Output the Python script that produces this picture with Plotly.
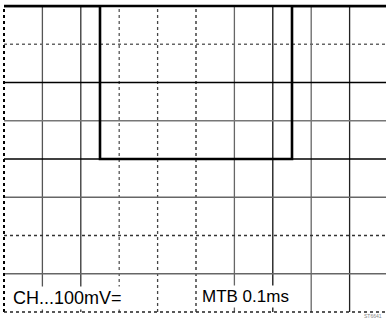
import plotly.graph_objects as go

# Square wave trace (time in divisions, level in divisions)
edge_times = [0, 2.5, 2.5, 7.5, 7.5, 10]
levels = [8, 8, 4, 4, 8, 8]

ch_label = "CH...100mV="
tb_label = "MTB 0.1ms"
ref_code = "ST6641"

x_divs = list(range(1, 10))
y_divs = list(range(1, 8))

# per-line styles mimicking the scanned graticule
v_styles = {1: ("#555", "solid"), 2: ("#333", "solid"), 3: ("#555", "dot"),
            4: ("#444", "dot"), 5: ("#222", "dot"), 6: ("#666", "solid"),
            7: ("#111", "solid"), 8: ("#666", "solid"), 9: ("#222", "solid")}
h_styles = {7: ("#666", "dot"), 6: ("#000", "solid"), 5: ("#777", "solid"),
            4: ("#000", "solid"), 3: ("#666", "solid"), 2: ("#333", "dot"),
            1: ("#666", "solid")}

fig = go.Figure()

shapes = []
for xv in x_divs:
    c, d = v_styles[xv]
    shapes.append(dict(type="line", xref="x", yref="y", x0=xv, x1=xv, y0=0, y1=8,
                       line=dict(color=c, width=1.3, dash=d), layer="below"))
for yv in y_divs:
    c, d = h_styles[yv]
    shapes.append(dict(type="line", xref="x", yref="y", x0=0, x1=10, y0=yv, y1=yv,
                       line=dict(color=c, width=1.3, dash=d), layer="below"))
# frame: top, left, bottom (right edge falls outside the picture)
shapes.append(dict(type="line", xref="paper", yref="paper", x0=0, x1=1, y0=1, y1=1,
                   line=dict(color="black", width=2.5)))
shapes.append(dict(type="line", xref="paper", yref="paper", x0=0, x1=0, y0=0, y1=1,
                   line=dict(color="black", width=2, dash="dot")))
shapes.append(dict(type="line", xref="paper", yref="paper", x0=0, x1=1, y0=0, y1=0,
                   line=dict(color="#222", width=1.5, dash="dot")))

fig.add_trace(go.Scatter(x=edge_times, y=levels, mode="lines",
                         line=dict(color="black", width=2.6), hoverinfo="skip",
                         showlegend=False))

fig.update_layout(
    width=386, height=322, autosize=False,
    margin=dict(l=4, r=0, t=6, b=10),
    paper_bgcolor="white", plot_bgcolor="white",
    shapes=shapes,
    xaxis=dict(range=[0, 382 / 38.4], showgrid=False, zeroline=False,
               showticklabels=False, ticks="", showline=False, fixedrange=True),
    yaxis=dict(range=[0, 8], showgrid=False, zeroline=False,
               showticklabels=False, ticks="", showline=False, fixedrange=True),
    annotations=[
        dict(text=ch_label, xref="x", yref="y", x=0.17, y=0.36, xanchor="left",
             yanchor="middle", showarrow=False, bgcolor="white", borderpad=1,
             font=dict(family="Liberation Sans, Arial", size=18, color="black")),
        dict(text=tb_label, xref="x", yref="y", x=5.1, y=0.4, xanchor="left",
             yanchor="middle", showarrow=False, bgcolor="white", borderpad=1,
             font=dict(family="Liberation Sans, Arial", size=17, color="black")),
        dict(text=ref_code, xref="paper", yref="paper", x=0.995, y=-0.014,
             xanchor="right", yanchor="middle", showarrow=False,
             font=dict(family="Liberation Sans, Arial", size=5, color="#888")),
    ],
)

fig.write_html("out.html", config={"displayModeBar": False},
               post_script="document.body.style.margin='0px';document.body.style.overflow='hidden';")
